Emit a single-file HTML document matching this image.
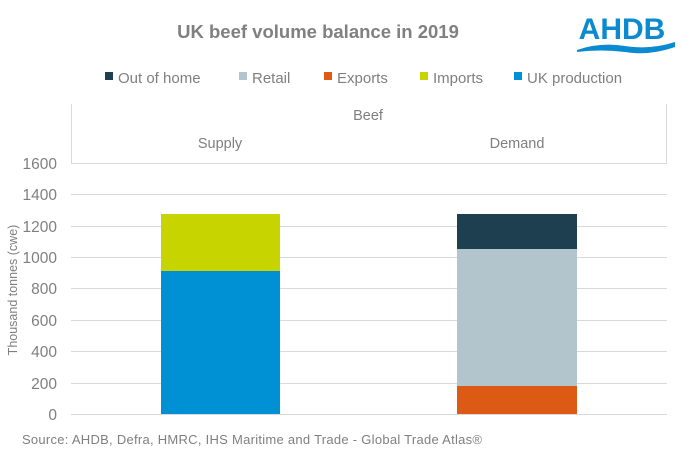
<!DOCTYPE html>
<html><head><style>
body{margin:0;background:#fff;}
svg text{font-family:"Liberation Sans",Arial,sans-serif;}
</style></head><body>
<svg width="682" height="458" viewBox="0 0 682 458" xmlns="http://www.w3.org/2000/svg">
<rect width="682" height="458" fill="#fff"/>
<text x="318" y="38" text-anchor="middle" font-size="18.5" font-weight="bold" fill="#808080">UK beef volume balance in 2019</text>
<text x="622" y="39" text-anchor="middle" font-size="30" font-weight="bold" fill="#0a8bd0">AHDB</text>
<path d="M577 50 Q600 42 625 46 Q650 50 675 42 L675 47 Q650 56 625 52 Q600 49 577 52 Z" fill="#0a8bd0"/>
<g font-size="15" fill="#7f7f7f">
<rect x="105" y="72" width="8" height="8" fill="#1e3f50"/><text x="118" y="83">Out of home</text>
<rect x="239" y="72" width="8" height="8" fill="#b2c5cc"/><text x="252" y="83">Retail</text>
<rect x="324" y="72" width="8" height="8" fill="#dc5a13"/><text x="337" y="83">Exports</text>
<rect x="420" y="72" width="8" height="8" fill="#c8d400"/><text x="433" y="83">Imports</text>
<rect x="514" y="72" width="8" height="8" fill="#0090d4"/><text x="527" y="83">UK production</text>
</g>
<g stroke="#d9d9d9" stroke-width="1">
<line x1="71.5" y1="104" x2="71.5" y2="163"/>
<line x1="666.5" y1="104" x2="666.5" y2="163"/>
<line x1="71" y1="163.5" x2="667" y2="163.5"/>
<line x1="71" y1="194.5" x2="667" y2="194.5"/>
<line x1="71" y1="226.5" x2="667" y2="226.5"/>
<line x1="71" y1="257.5" x2="667" y2="257.5"/>
<line x1="71" y1="288.5" x2="667" y2="288.5"/>
<line x1="71" y1="320.5" x2="667" y2="320.5"/>
<line x1="71" y1="351.5" x2="667" y2="351.5"/>
<line x1="71" y1="383.5" x2="667" y2="383.5"/>
<line x1="71" y1="414.5" x2="667" y2="414.5"/>
</g>
<g font-size="14.5" fill="#7f7f7f">
<text x="368" y="120" text-anchor="middle">Beef</text>
<text x="220" y="148" text-anchor="middle">Supply</text>
<text x="517" y="148" text-anchor="middle">Demand</text>
</g>
<g font-size="15.5" fill="#7f7f7f" text-anchor="end">
<text x="57" y="169">1600</text><text x="57" y="200">1400</text><text x="57" y="232">1200</text>
<text x="57" y="263">1000</text><text x="57" y="294">800</text><text x="57" y="326">600</text>
<text x="57" y="357">400</text><text x="57" y="389">200</text><text x="57" y="420">0</text>
</g>
<text transform="translate(17,290) rotate(-90)" text-anchor="middle" font-size="12.5" fill="#7f7f7f">Thousand tonnes (cwe)</text>
<rect x="161" y="271" width="119" height="143" fill="#0090d4"/>
<rect x="161" y="214" width="119" height="57" fill="#c8d400"/>
<rect x="457" y="386" width="120" height="28" fill="#dc5a13"/>
<rect x="457" y="249" width="120" height="137" fill="#b2c5cc"/>
<rect x="457" y="214" width="120" height="35" fill="#1e3f50"/>
<text x="22" y="444" font-size="13" fill="#7f7f7f" textLength="460" lengthAdjust="spacing">Source: AHDB, Defra, HMRC, IHS Maritime and Trade  - Global Trade Atlas®</text>
</svg>
</body></html>
